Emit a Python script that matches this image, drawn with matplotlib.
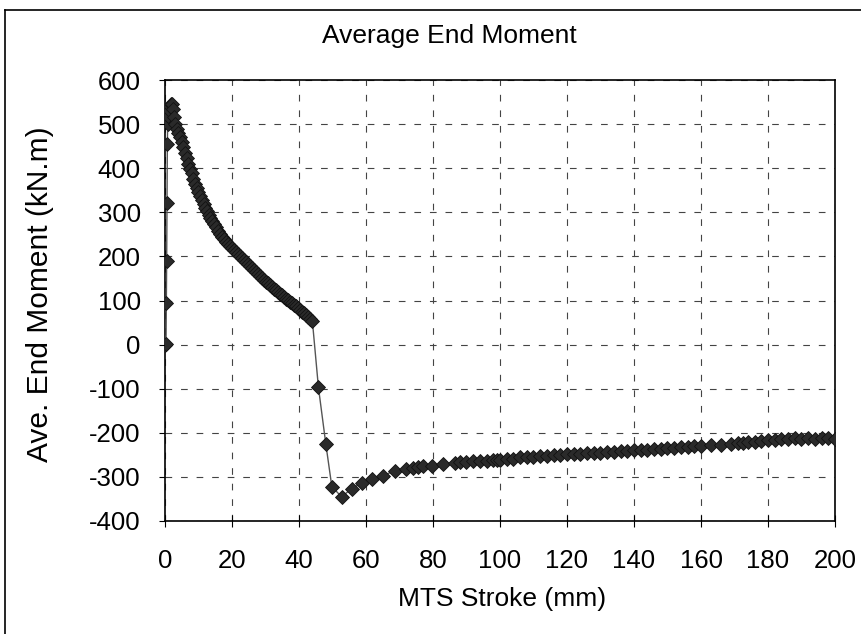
import matplotlib.pyplot as plt
from matplotlib.lines import Line2D

# MTS stroke (mm) and average end moment (kN.m)
stroke_rise = [0.0, 0.3, 0.4, 0.5, 0.6, 0.7, 0.8, 1.0, 1.3, 1.6, 1.9, 2.2, 2.5, 2.8]
moment_rise = [0, 2, 95, 190, 320, 455, 500, 518, 532, 542, 546, 545, 535, 515]

stroke_down = [3.0, 3.5, 4.0, 4.5, 5.0, 5.5, 6.0, 6.5, 7.0, 7.5, 8.0, 8.5, 9.0, 9.5,
               10.0, 10.5, 11.0, 11.5, 12.0, 12.5, 13.0, 13.5, 14.0, 14.6, 15.2, 15.8,
               16.4, 17.0, 17.6, 18.2, 18.8, 19.4, 20.0, 20.6, 21.2, 21.8, 22.4, 23.0,
               23.6, 24.2, 24.8, 25.4, 26.0, 26.6, 27.2, 27.8, 28.4, 29.0, 29.6, 30.2,
               30.8, 31.4, 32.0, 32.6, 33.2, 33.8, 34.4, 35.0, 35.6, 36.2, 36.8, 37.4,
               38.0, 38.6, 39.2, 39.8, 40.4, 41.0, 41.6, 42.2, 42.8, 43.4, 44.0]
moment_down = [500, 490, 480, 470, 460, 448, 435, 422, 410, 399, 388, 376, 365, 355,
               345, 336, 327, 318, 310, 302, 295, 287, 280, 273, 266, 258,
               251, 245, 239, 233, 229, 224, 220, 215, 210, 205, 200, 196,
               191, 187, 182, 178, 173, 169, 164, 160, 155, 151, 147, 143,
               139, 135, 131, 127, 123, 119, 115, 112, 108, 104, 101, 97,
               94, 90, 87, 83, 79, 75, 71, 67, 62, 58, 53]

stroke_rev = [45.8, 48.0, 49.8, 52.7, 55.7, 58.7, 61.7, 65.0, 68.7, 72.0, 74.0, 75.5,
              77.0, 79.6, 83.0, 86.5, 88.0, 90.0, 92.0, 94.0, 96.0, 98.0, 99.0, 100.0,
              102, 104, 106, 108, 110, 112, 114, 116, 118, 120, 122, 124, 126, 128,
              130, 132, 134, 136, 138, 140, 142, 144, 146, 148, 150, 152, 154, 156,
              158, 160, 163, 166, 169, 171, 172.5, 174, 176, 178, 180, 182, 184, 186,
              188, 190, 192, 194, 196, 198, 200]
moment_rev = [-97, -225, -322, -345, -327, -314, -304, -297, -286, -282, -279, -277,
              -276, -276, -270, -268, -267, -266, -265, -264, -264, -262, -261, -261,
              -260, -259, -256, -256, -254, -253, -252, -251, -250, -248, -248, -247,
              -246, -245, -245, -244, -243, -242, -241, -240, -239, -238, -237, -236,
              -235, -234, -233, -232, -230, -229, -228, -227, -226, -224, -222, -221,
              -220, -218, -217, -216, -215, -213, -212, -213, -212, -213, -212, -212,
              -213]

stroke = stroke_rise + stroke_down + stroke_rev
moment = moment_rise + moment_down + moment_rev

x_ticks = list(range(0, 201, 20))
y_ticks = list(range(-400, 601, 100))

plt.rcParams['font.family'] = ['Liberation Sans', 'DejaVu Sans']
plt.rcParams['axes.unicode_minus'] = False

fig = plt.figure(figsize=(8.62, 6.34), dpi=100)
ax = fig.add_axes([165 / 862, 1 - 521 / 634, 670 / 862, 441 / 634])

ax.plot(stroke, moment, color='#555555', lw=1.0, marker='D', markersize=7,
        markerfacecolor='#2a2a2a', markeredgecolor='#111111', markeredgewidth=0.6,
        zorder=3)

ax.set_xlim(0, 200)
ax.set_ylim(-400, 600)
ax.set_xticks(x_ticks)
ax.set_yticks(y_ticks)
ax.grid(True, color='#444444', lw=0.8, linestyle=(0, (6, 8)))
for s in ax.spines.values():
    s.set_color('black')
    s.set_linewidth(1.2)
ax.tick_params(axis='x', direction='inout', length=8, labelsize=18.5, pad=16)
ax.tick_params(axis='y', direction='out', length=4.5, labelsize=18.5, pad=13)

fig.text(40 / 862, 1 - 294 / 634, 'Ave. End Moment (kN.m)', rotation=90,
         ha='center', va='center', fontsize=21.5)
fig.text(502 / 862, 1 - 599 / 634, 'MTS Stroke (mm)', ha='center', va='center',
         fontsize=19)
fig.text(449 / 862, 1 - 36 / 634, 'Average End Moment', ha='center', va='center',
         fontsize=19)

# outer chart frame
fig.add_artist(Line2D([5 / 862, 5 / 862], [0, 1 - 10 / 634], color='black', lw=1.2))
fig.add_artist(Line2D([5 / 862, 1], [1 - 10 / 634, 1 - 10 / 634], color='black', lw=1.2))

fig.savefig('out.png', dpi=100)
